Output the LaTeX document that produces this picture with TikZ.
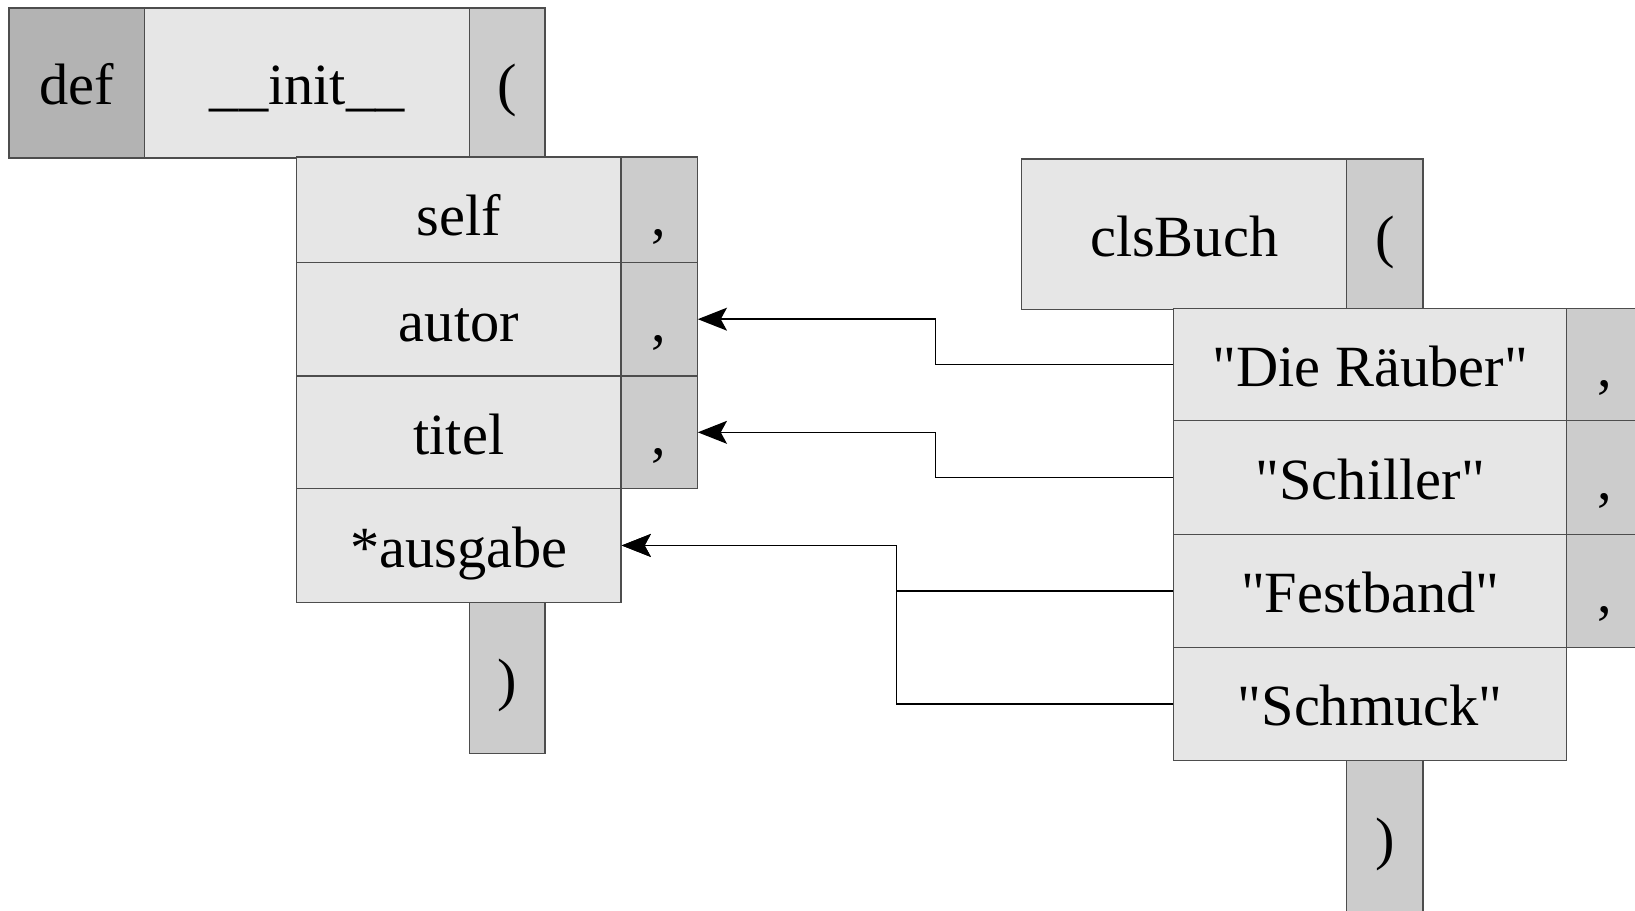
\documentclass[tikz,border=0pt]{standalone}
\usepackage{fontspec}
\setmainfont{Liberation Serif}
\usetikzlibrary{arrows.meta}
\definecolor{boxdark}{HTML}{B3B3B3}
\definecolor{boxlight}{HTML}{E6E6E6}
\definecolor{boxmid}{HTML}{CCCCCC}
\definecolor{boxline}{HTML}{4D4D4D}
\newcommand{\qq}{\textquotedbl}
\tikzset{
  cell/.style n args={2}{draw=boxline, line width=0.6pt, anchor=north west,
    inner sep=0pt, minimum width=#1*0.5pt, minimum height=#2*0.5pt,
    text height=21pt, text depth=0pt,
    font=\fontsize{28}{34}\selectfont},
  dark/.style={fill=boxdark},
  light/.style={fill=boxlight},
  mid/.style={fill=boxmid},
  conn/.style={draw=black, line width=0.7pt,
    -{Stealth[length=14pt,width=11pt,inset=3pt]}}
}
\begin{document}
\begin{tikzpicture}[x=0.5pt,y=-0.5pt]
\useasboundingbox (0,0) rectangle (1568,873);
\clip (0,0) rectangle (1568,873);
% top row left
\node[cell={130}{144},dark]  (def)   at (8,7)   {def};
\node[cell={312}{144},light] (init)  at (138,7) {\_\_init\_\_};
\node[cell={72}{144},mid]    (open1) at (450,7) {(};
% parameter column
\node[cell={311}{101},light,text height=24.5pt] (self)    at (284,150) {self};
\node[cell={73}{101},mid,text height=24.5pt]    (selfc)   at (595,150) {,};
\node[cell={311}{109},light] (autor)   at (284,251) {autor};
\node[cell={73}{109},mid]    (autorc)  at (595,251) {,};
\node[cell={311}{108},light] (titel)   at (284,360) {titel};
\node[cell={73}{108},mid]    (titelc)  at (595,360) {,};
\node[cell={311}{109},light] (ausgabe) at (284,468) {*ausgabe};
\node[cell={72}{145},mid]    (close1)  at (450,577) {)};
% right call
\node[cell={312}{144},light] (cls)   at (979,152)  {clsBuch};
\node[cell={73}{144},mid]    (open2) at (1291,152) {(};
\node[cell={377}{108},light] (raeuber)   at (1125,295) {\qq Die Räuber\qq};
\node[cell={73}{108},mid]    (raeuberc)  at (1502,295) {,};
\node[cell={377}{109},light] (schiller)  at (1125,403) {\qq Schiller\qq};
\node[cell={73}{109},mid]    (schillerc) at (1502,403) {,};
\node[cell={377}{108},light] (festband)  at (1125,512) {\qq Festband\qq};
\node[cell={73}{108},mid]    (festbandc) at (1502,512) {,};
\node[cell={377}{109},light] (schmuck)   at (1125,620) {\qq Schmuck\qq};
\node[cell={73}{145},mid]    (close2)    at (1291,729) {)};
% connectors
\draw[conn] (raeuber.west)  -- ++(-228,0) |- (autorc.east);
\draw[conn] (schiller.west) -- ++(-228,0) |- (titelc.east);
\draw[conn] (festband.west) -- ++(-265,0) |- (ausgabe.east);
\draw[conn] (schmuck.west)  -- ++(-265,0) |- (ausgabe.east);
\end{tikzpicture}
\end{document}
